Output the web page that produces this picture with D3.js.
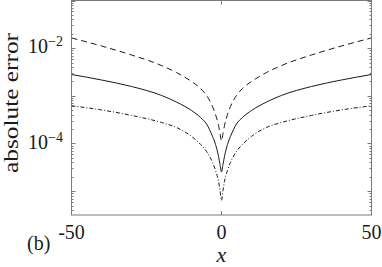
<!DOCTYPE html>
<html lang="en">
<head>
  <meta charset="UTF-8" />
  <title>Absolute error (b)</title>
  <script src="https://d3js.org/d3.v7.min.js"></script>
  <style>
    body { margin: 0; background: #fff; }
    svg { display: block; }
  </style>
</head>
<body>
  <svg id="chart" width="382" height="267"></svg>
  <script>
    // values (symmetric about x = 0)
    const xs = [-50, -40, -30, -20, -15, -10, -7, -5, -3, -2, -1, -0.5, 0,
                0.5, 1, 2, 3, 5, 7, 10, 15, 20, 30, 40, 50];
    const dashedErr = [1.64e-2, 1.11e-2, 7.2e-3, 4.32e-3, 3.08e-3, 2.0e-3, 1.43e-3, 1.02e-3, 5.98e-4, 4.07e-4, 2.39e-4, 1.63e-4, 1.13e-4,
                       1.63e-4, 2.39e-4, 4.07e-4, 5.98e-4, 1.02e-3, 1.43e-3, 2.0e-3, 3.08e-3, 4.32e-3, 7.2e-3, 1.11e-2, 1.64e-2];
    const solidErr = [2.80e-3, 2.15e-3, 1.57e-3, 1.02e-3, 7.4e-4, 4.93e-4, 3.52e-4, 2.57e-4, 1.41e-4, 9.6e-5, 5.37e-5, 3.65e-5, 2.52e-5,
                      3.65e-5, 5.37e-5, 9.6e-5, 1.41e-4, 2.57e-4, 3.52e-4, 4.93e-4, 7.4e-4, 1.02e-3, 1.57e-3, 2.15e-3, 2.80e-3];
    const dashDotErr = [6.19e-4, 5.06e-4, 3.88e-4, 2.76e-4, 2.17e-4, 1.41e-4, 9.6e-5, 6.84e-5, 4.02e-5, 2.73e-5, 1.61e-5, 1.04e-5, 6.4e-6,
                        1.04e-5, 1.61e-5, 2.73e-5, 4.02e-5, 6.84e-5, 9.6e-5, 1.41e-4, 2.17e-4, 2.76e-4, 3.88e-4, 5.06e-4, 6.19e-4];
    const xTicks = [-50, 0, 50];
    const xTickLabels = ["-50", "0", "50"];
    const yLabelTicks = [1e-2, 1e-4];
    const yLabelExp = ["\u22122", "\u22124"];

    const plotLeft = 71.5, plotRight = 371.5, plotTop = 0.5, plotBottom = 215;
    const serif = '"Liberation Serif", serif';
    const svg = d3.select("#chart");

    const x = d3.scaleLinear().domain([-50, 50]).range([plotLeft, plotRight]);
    const y = d3.scaleLog().domain([Math.pow(10, -5.5), 1e-1]).range([plotBottom, plotTop]);

    const axisColor = "#7a7a7a";
    const lineColor = "#1a1a1a";
    const textColor = "#1a1a1a";

    // minor + major y ticks (both sides, inward)
    const yTicks = [];
    for (let e = -6; e <= -1; e++) {
      for (let m = 1; m <= 9; m++) {
        const v = m * Math.pow(10, e);
        if (v >= y.domain()[0] && v <= y.domain()[1]) yTicks.push({ v, major: m === 1 });
      }
    }
    const g = svg.append("g");
    yTicks.forEach(t => {
      const len = t.major ? 4 : 2;
      const py = Math.round(y(t.v)) + 0.5;
      g.append("line").attr("x1", plotLeft).attr("x2", plotLeft + len).attr("y1", py).attr("y2", py)
        .attr("stroke", axisColor).attr("stroke-width", 1);
      g.append("line").attr("x1", plotRight).attr("x2", plotRight - len).attr("y1", py).attr("y2", py)
        .attr("stroke", axisColor).attr("stroke-width", 1);
    });
    xTicks.forEach(t => {
      g.append("line").attr("x1", x(t)).attr("x2", x(t)).attr("y1", plotBottom).attr("y2", plotBottom - 4)
        .attr("stroke", axisColor);
      g.append("line").attr("x1", x(t)).attr("x2", x(t)).attr("y1", plotTop).attr("y2", plotTop + 4)
        .attr("stroke", axisColor);
    });

    // curves
    const series = [
      { vals: dashedErr, dash: "6,4" },
      { vals: solidErr, dash: null },
      { vals: dashDotErr, dash: "4,2,1,2" }
    ];
    const line = d3.line().x(d => x(d[0])).y(d => y(d[1])).curve(d3.curveMonotoneX);
    series.forEach(s => {
      svg.append("path")
        .attr("d", line(xs.map((v, i) => [v, s.vals[i]])))
        .attr("fill", "none")
        .attr("stroke", lineColor)
        .attr("stroke-width", 1)
        .attr("stroke-dasharray", s.dash);
    });

    // box
    svg.append("rect").attr("x", plotLeft).attr("y", plotTop)
      .attr("width", plotRight - plotLeft).attr("height", plotBottom - plotTop)
      .attr("fill", "none").attr("stroke", axisColor).attr("stroke-width", 1);

    // y tick labels 10^{-k}
    yLabelTicks.forEach((t, i) => {
      const txt = svg.append("text")
        .attr("x", plotLeft - 8.5)
        .attr("y", y(t) + 5)
        .attr("text-anchor", "end")
        .style("font-family", serif)
        .attr("font-size", 20)
        .attr("fill", textColor);
      txt.append("tspan").text("10");
      txt.append("tspan").attr("dy", -7).attr("font-size", 14).text(yLabelExp[i]);
    });

    // x tick labels
    xTicks.forEach((t, i) => {
      svg.append("text")
        .attr("x", x(t))
        .attr("y", 239)
        .attr("text-anchor", "middle")
        .style("font-family", serif)
        .attr("font-size", 20)
        .attr("fill", textColor)
        .text(xTickLabels[i]);
    });

    // axis titles
    svg.append("text")
      .attr("x", x(0))
      .attr("y", 262)
      .attr("text-anchor", "middle")
      .style("font-family", serif)
      .attr("font-size", 22)
      .attr("font-style", "italic")
      .attr("fill", textColor)
      .text("x");

    svg.append("text")
      .attr("transform", "translate(17.5,103) rotate(-90)")
      .attr("text-anchor", "middle")
      .style("font-family", serif)
      .attr("font-size", 20)
      .attr("textLength", 140)
      .attr("lengthAdjust", "spacingAndGlyphs")
      .attr("fill", textColor)
      .text("absolute error");

    svg.append("text")
      .attr("x", 27)
      .attr("y", 250)
      .style("font-family", serif)
      .attr("font-size", 20)
      .attr("fill", textColor)
      .text("(b)");
  </script>
</body>
</html>
